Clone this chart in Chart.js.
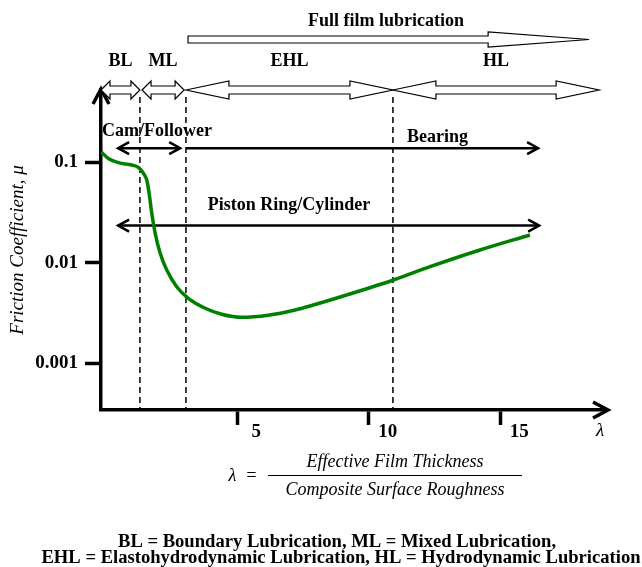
<!DOCTYPE html>
<html>
<head>
<meta charset="utf-8">
<script src="https://cdn.jsdelivr.net/npm/chart.js@4.4.1/dist/chart.umd.min.js"></script>
<style>
  html, body { margin: 0; padding: 0; background: #fff; }
  canvas { display: block; }
</style>
</head>
<body>
<canvas id="stribeck" width="642" height="567"></canvas>
<script>
// lambda values and friction coefficient
var lambdaVals = [-0.18, 0.10, 0.48, 0.99, 1.24, 1.43, 1.56, 1.65, 1.75, 1.88, 2.07, 2.32, 2.70, 3.14, 3.78, 4.41, 5.17, 6.18, 7.20, 7.89, 9.16, 10.94, 12.33, 14.23, 16.13];
var frictionVals = [0.127, 0.109, 0.0989, 0.0938, 0.089, 0.0776, 0.0665, 0.049, 0.031, 0.0196, 0.0124, 0.00846, 0.00577, 0.00442, 0.00352, 0.00307, 0.00286, 0.003, 0.00338, 0.00379, 0.00477, 0.00673, 0.00912, 0.01337, 0.01887];

var xTicks = [5, 10, 15];
var yTicks = [0.001, 0.01, 0.1];

// regime boundaries (lambda)
var boundaries = [1.30, 3.05, 10.92];
var regimeNames = ['BL', 'ML', 'EHL', 'HL'];
var regimeStart = [-0.18, 1.38, 3.05, 10.92];
var regimeEnd = [1.30, 2.98, 10.92, 18.76];

// application ranges: [from, to, mu]
var camFollower = [0.47, 2.83, 0.138];
var bearing = [3.05, 16.44, 0.138];
var pistonRing = [0.47, 16.48, 0.0234];

var xMin = -0.18, xMax = 19.06;
var yMin = 0.000342, yMax = 0.523;
var dashTop = 0.445;

var serif = "'Liberation Serif', 'Times New Roman', serif";

function line(pts, opts) {
    var ds = {
        data: pts,
        borderColor: '#000',
        borderWidth: 2.5,
        pointRadius: 0,
        fill: false,
        clip: false
    };
    for (var k in opts) ds[k] = opts[k];
    return ds;
}

var datasets = [];
datasets.push({
    data: lambdaVals.map(function (x, i) { return { x: x, y: frictionVals[i] }; }),
    borderColor: '#008000',
    borderWidth: 3.5,
    pointRadius: 0,
    cubicInterpolationMode: 'monotone',
    fill: false
});
boundaries.forEach(function (b) {
    datasets.push(line([{ x: b, y: dashTop }, { x: b, y: yMin }], { borderWidth: 1.5, borderDash: [6, 4] }));
});
datasets.push(line([{ x: camFollower[0], y: camFollower[2] }, { x: camFollower[1], y: camFollower[2] }]));
datasets.push(line([{ x: bearing[0], y: bearing[2] }, { x: bearing[1], y: bearing[2] }]));
datasets.push(line([{ x: pistonRing[0], y: pistonRing[2] }, { x: pistonRing[1], y: pistonRing[2] }]));

function chevron(ctx, x, y, dir, len, half, w) {
    ctx.save();
    ctx.strokeStyle = '#000';
    ctx.lineWidth = w;
    ctx.lineJoin = 'miter';
    ctx.beginPath();
    if (dir === 'right' || dir === 'left') {
        var s = dir === 'right' ? -1 : 1;
        ctx.moveTo(x + s * len, y - half);
        ctx.lineTo(x, y);
        ctx.lineTo(x + s * len, y + half);
    } else {
        ctx.moveTo(x - half, y + len);
        ctx.lineTo(x, y);
        ctx.lineTo(x + half, y + len);
    }
    ctx.stroke();
    ctx.restore();
}

function hollowArrow(ctx, x1, x2, yc, headLen, headHalf, shaftHalf, both) {
    ctx.save();
    ctx.beginPath();
    if (both) {
        ctx.moveTo(x1, yc);
        ctx.lineTo(x1 + headLen, yc - headHalf);
        ctx.lineTo(x1 + headLen, yc - shaftHalf);
    } else {
        ctx.moveTo(x1, yc - shaftHalf);
    }
    ctx.lineTo(x2 - headLen, yc - shaftHalf);
    ctx.lineTo(x2 - headLen, yc - headHalf);
    ctx.lineTo(x2, yc);
    ctx.lineTo(x2 - headLen, yc + headHalf);
    ctx.lineTo(x2 - headLen, yc + shaftHalf);
    if (both) {
        ctx.lineTo(x1 + headLen, yc + shaftHalf);
        ctx.lineTo(x1 + headLen, yc + headHalf);
    } else {
        ctx.lineTo(x1, yc + shaftHalf);
    }
    ctx.closePath();
    ctx.fillStyle = '#fff';
    ctx.fill();
    ctx.strokeStyle = '#000';
    ctx.lineWidth = 1.2;
    ctx.stroke();
    ctx.restore();
}

function text(ctx, s, x, y, font, align) {
    ctx.save();
    ctx.font = font;
    ctx.fillStyle = '#000';
    ctx.textAlign = align || 'center';
    ctx.textBaseline = 'middle';
    ctx.fillText(s, x, y);
    ctx.restore();
}

var annotations = {
    id: 'annotations',
    afterDraw: function (chart) {
        var ctx = chart.ctx;
        var xs = chart.scales.x, ys = chart.scales.y;
        var area = chart.chartArea;
        var bold = 'bold 18px ' + serif;

        // axis arrow heads
        chevron(ctx, area.right + 1, area.bottom, 'right', 15, 8, 3.5);
        chevron(ctx, area.left, area.top - 1, 'up', 15, 8, 3.5);

        // application arrows
        var yc = ys.getPixelForValue(camFollower[2]);
        chevron(ctx, xs.getPixelForValue(camFollower[0]), yc, 'left', 11, 6, 2.5);
        chevron(ctx, xs.getPixelForValue(camFollower[1]), yc, 'right', 11, 6, 2.5);
        chevron(ctx, xs.getPixelForValue(bearing[1]), ys.getPixelForValue(bearing[2]), 'right', 11, 6, 2.5);
        var yp = ys.getPixelForValue(pistonRing[2]);
        chevron(ctx, xs.getPixelForValue(pistonRing[0]), yp, 'left', 11, 6, 2.5);
        chevron(ctx, xs.getPixelForValue(pistonRing[1]), yp, 'right', 11, 6, 2.5);

        text(ctx, 'Cam/Follower', 102, 131, bold, 'left');
        text(ctx, 'Bearing', 407, 137, bold, 'left');
        text(ctx, 'Piston Ring/Cylinder', 289, 205, bold, 'center');

        // regime arrows
        for (var i = 0; i < regimeNames.length; i++) {
            var a = xs.getPixelForValue(regimeStart[i]);
            var b = xs.getPixelForValue(regimeEnd[i]);
            var big = i >= 2;
            hollowArrow(ctx, a, b, 90, big ? 43 : 9, 9, 4, true);
            text(ctx, regimeNames[i], (a + b) / 2, 61, bold, 'center');
        }

        // full film lubrication
        hollowArrow(ctx, xs.getPixelForValue(3.13), xs.getPixelForValue(18.38), 39.5, 101, 7.5, 3.5, false);
        text(ctx, 'Full film lubrication', 386, 21, bold, 'center');

        // lambda definition
        var it = 'italic 18px ' + serif;
        text(ctx, '\u03bb', 600, 431, 'italic 19px ' + serif, 'center');
        text(ctx, '\u03bb  =', 243, 476, it, 'center');
        text(ctx, 'Effective Film Thickness', 395, 462, it, 'center');
        text(ctx, 'Composite Surface Roughness', 395, 490, it, 'center');
        ctx.save();
        ctx.strokeStyle = '#000';
        ctx.lineWidth = 1;
        ctx.beginPath();
        ctx.moveTo(268, 475.5);
        ctx.lineTo(522, 475.5);
        ctx.stroke();
        ctx.restore();

        // footnote
        var cap = 'bold 18.6px ' + serif;
        text(ctx, 'BL = Boundary Lubrication, ML = Mixed Lubrication,', 337, 542, cap, 'center');
        text(ctx, 'EHL = Elastohydrodynamic Lubrication, HL = Hydrodynamic Lubrication', 341, 558, cap, 'center');
    }
};

new Chart(document.getElementById('stribeck').getContext('2d'), {
    type: 'line',
    data: { datasets: datasets },
    options: {
        responsive: false,
        animation: false,
        events: [],
        layout: { padding: { top: 90, right: 35, left: 0, bottom: 0 } },
        plugins: { legend: { display: false }, tooltip: { enabled: false } },
        scales: {
            x: {
                type: 'linear',
                bounds: 'data',
                min: xMin,
                max: xMax,
                afterBuildTicks: function (scale) {
                    scale.ticks = xTicks.map(function (v) { return { value: v }; });
                },
                afterFit: function (scale) { scale.height = 157; },
                grid: { drawOnChartArea: false, drawTicks: true, tickLength: 15, tickWidth: 3.5, tickColor: '#000' },
                border: { display: true, color: '#000', width: 3.5 },
                ticks: {
                    color: '#000',
                    font: { family: serif, size: 19, weight: 'bold' },
                    labelOffset: 19,
                    padding: -4,
                    maxRotation: 0,
                    autoSkip: false,
                    callback: function (v) { return String(v); }
                }
            },
            y: {
                type: 'logarithmic',
                bounds: 'data',
                min: yMin,
                max: yMax,
                afterBuildTicks: function (scale) {
                    scale.ticks = yTicks.map(function (v) { return { value: v }; });
                },
                afterFit: function (scale) { scale.width = 101; },
                grid: { drawOnChartArea: false, drawTicks: true, tickLength: 16, tickWidth: 3.5, tickColor: '#000' },
                border: { display: true, color: '#000', width: 3.5 },
                ticks: {
                    color: '#000',
                    font: { family: serif, size: 19, weight: 'bold' },
                    padding: 7,
                    autoSkip: false,
                    callback: function (v) { return String(v); }
                },
                title: {
                    display: true,
                    text: 'Friction Coefficient, \u03bc',
                    color: '#000',
                    font: { family: serif, size: 19, style: 'italic' },
                    padding: { top: 7, bottom: 0 }
                }
            }
        }
    },
    plugins: [annotations]
});
</script>
</body>
</html>
